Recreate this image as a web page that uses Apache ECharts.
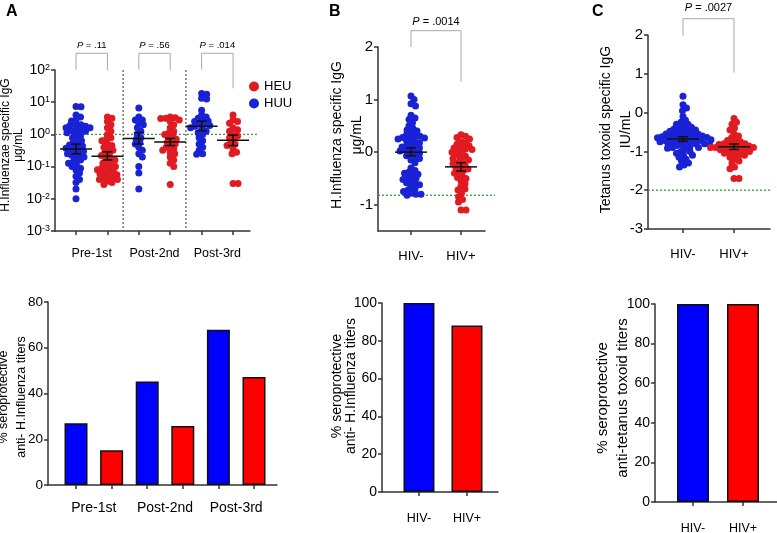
<!DOCTYPE html>
<html><head><meta charset="utf-8">
<script src="https://cdn.jsdelivr.net/npm/echarts@6/dist/echarts.min.js"></script>
<style>html,body{margin:0;padding:0;background:#fff}#c{width:777px;height:533px}</style>
</head><body><div id="c"></div>
<script>
// ---------------- DATA ----------------
const groupsA = ['Pre-1st', 'Post-2nd', 'Post-3rd'];
const groupsHIV = ['HIV-', 'HIV+'];
// Panel A (μg/mL), HUU (blue) and HEU (red) per timepoint
const huuPre1 = [7.4,7.2,4.0,3.5,2.8,2.6,2.0,2.0,1.9,1.8,1.6,1.6,1.4,1.4,1.3,1.26,1.12,1.0,0.89,0.79,0.71,0.63,0.56,0.5,0.47,0.44,0.4,0.37,0.35,0.32,0.3,0.28,0.25,0.23,0.22,0.2,0.18,0.16,0.14,0.126,0.11,0.1,0.089,0.079,0.063,0.05,0.04,0.032,0.02,0.01];
const heuPre1 = [3.5,3.2,2.5,2.0,1.6,1.26,1.0,0.79,0.71,0.63,0.5,0.45,0.4,0.35,0.32,0.28,0.25,0.22,0.2,0.18,0.16,0.14,0.126,0.11,0.1,0.1,0.09,0.08,0.075,0.07,0.063,0.06,0.056,0.05,0.045,0.045,0.04,0.04,0.035,0.032,0.028];
const huuPost2 = [6.6,3.5,2.8,2.8,2.2,2.0,1.6,1.26,1.0,0.79,0.71,0.56,0.5,0.4,0.32,0.25,0.2,0.1,0.063,0.02];
const heuPost2 = [3.5,3.3,3.2,3.1,2.8,2.5,2.0,1.6,1.26,1.12,1.0,0.89,0.79,0.71,0.63,0.56,0.5,0.45,0.4,0.35,0.32,0.28,0.25,0.2,0.16,0.126,0.1,0.028];
const huuPost3 = [18.6,17.8,13.2,12.6,5.6,4.0,3.5,3.2,2.8,2.6,2.5,2.2,2.0,1.9,1.8,1.6,1.4,1.26,1.12,1.0,0.79,0.63,0.5,0.4,0.32,0.25,0.24];
const heuPost3 = [4.0,2.8,2.5,2.2,1.6,1.4,1.26,1.0,0.89,0.79,0.71,0.56,0.5,0.45,0.35,0.28,0.25,0.03,0.03];
const huuMean = [0.35, 0.75, 1.8], huuLo = [0.25, 0.5, 1.3], huuHi = [0.5, 1.15, 2.6];
const heuMean = [0.21, 0.58, 0.66], heuLo = [0.16, 0.45, 0.45], heuHi = [0.29, 0.75, 0.95];
const thresholdA = 1;
const pTextA = ['.11', '.56', '.014'];
// Panel B (log units)
const bNeg = [1.07,1.0,0.92,0.88,0.7,0.65,0.62,0.56,0.5,0.45,0.42,0.4,0.35,0.33,0.3,0.3,0.28,0.27,0.25,0.25,0.22,0.2,0.18,0.15,0.12,0.1,0.1,0.08,0.05,0.03,0.02,0.0,-0.02,-0.05,-0.07,-0.1,-0.12,-0.15,-0.2,-0.3,-0.35,-0.38,-0.4,-0.42,-0.45,-0.48,-0.5,-0.52,-0.55,-0.58,-0.6,-0.62,-0.65,-0.7,-0.72,-0.75,-0.78,-0.8,-0.8,-0.82];
const bPos = [0.33,0.3,0.28,0.25,0.2,0.18,0.15,0.12,0.1,0.08,0.06,0.05,0.03,0.0,-0.02,-0.05,-0.08,-0.1,-0.12,-0.15,-0.18,-0.2,-0.22,-0.25,-0.28,-0.3,-0.32,-0.35,-0.38,-0.4,-0.45,-0.48,-0.5,-0.55,-0.6,-0.65,-0.7,-0.72,-0.78,-0.85,-0.9,-0.95,-1.1,-1.1];
const bMean = [0.0, -0.28], bLo = [-0.07, -0.36], bHi = [0.08, -0.2];
const thresholdB = -0.82;
// Panel C (log units)
const cNeg = [0.42,0.2,0.12,0.05,-0.1,-0.2,-0.25,-0.3,-0.3,-0.35,-0.38,-0.4,-0.42,-0.45,-0.45,-0.48,-0.5,-0.5,-0.52,-0.55,-0.55,-0.58,-0.58,-0.6,-0.6,-0.62,-0.62,-0.64,-0.65,-0.65,-0.66,-0.68,-0.68,-0.7,-0.7,-0.72,-0.72,-0.74,-0.75,-0.75,-0.76,-0.78,-0.8,-0.8,-0.8,-0.82,-0.85,-0.85,-0.88,-0.9,-0.9,-0.92,-0.95,-1.0,-1.0,-1.05,-1.1,-1.1,-1.15,-1.2,-1.25,-1.3,-1.35,-1.4];
const cPos = [-0.15,-0.25,-0.3,-0.4,-0.45,-0.55,-0.6,-0.65,-0.7,-0.72,-0.75,-0.78,-0.8,-0.8,-0.82,-0.85,-0.85,-0.86,-0.88,-0.9,-0.9,-0.9,-0.92,-0.93,-0.95,-0.96,-0.98,-1.0,-1.0,-1.02,-1.05,-1.08,-1.1,-1.12,-1.15,-1.2,-1.25,-1.3,-1.4,-1.45,-1.7,-1.7];
const cMean = [-0.68, -0.88], cLo = [-0.74, -0.95], cHi = [-0.62, -0.81];
const thresholdC = -2;
// Bars (% seroprotective)
const barA_HUU = [27.0, 45.3, 67.9];
const barA_HEU = [15.2, 25.8, 47.2];
const barB = [100, 88.1];
const barC = [100, 100];
const pTextB = '.0014', pTextC = '.0027';

// ---------------- STYLE ----------------
const FONT = '"Liberation Sans", Arial, Helvetica, sans-serif';
const BLUE_DOT = '#1a22d6', RED_DOT = '#e11b22';
const BLUE = '#0000ff', RED = '#ff0000';
const AX = '#333';
const chart = echarts.init(document.getElementById('c'));

const line = {show: true, onZero: false, lineStyle: {color: AX, width: 1.5}};
function tickX(vals) { return {show: true, length: 4, lineStyle: {color: AX, width: 1.5}, customValues: vals}; }
function labX(vals, names, size, margin) {
  return {customValues: vals, margin: margin, fontSize: size, color: '#000', fontFamily: FONT,
    formatter: v => names[Math.round(v)] !== undefined ? names[Math.round(v)] : ''};
}
function yName(text, size, lh, gap, pad) {
  return {name: text, nameLocation: 'middle', nameRotate: 90, nameGap: gap, nameMoveOverlap: false,
    nameTextStyle: {fontSize: size, lineHeight: lh, color: '#000', fontFamily: FONT, padding: pad, align: 'center'}};
}
const yLab = (size) => ({fontSize: size, color: '#000', fontFamily: FONT, margin: 5});
const yTick = {show: true, length: 4, lineStyle: {color: AX, width: 1.5}};

const gridBase = {outerBoundsMode: 'none', containLabel: false};
const grids = [
  {left: 55, top: 70, width: 195, height: 161},   // 0 A top
  {left: 378, top: 47, width: 107, height: 184},  // 1 B top
  {left: 648, top: 35, width: 122, height: 194},  // 2 C top
  {left: 48, top: 302, width: 229, height: 183},  // 3 A bottom
  {left: 382, top: 303, width: 116, height: 189}, // 4 B bottom
  {left: 655, top: 304, width: 122, height: 198}  // 5 C bottom
].map(g => Object.assign({}, gridBase, g));

const xAxes = [
  {gridIndex: 0, type: 'value', min: -0.669, max: 5.54, axisLine: line, splitLine: {show: false},
    axisTick: tickX([0,1,2,3,4,5]), axisLabel: labX([0.5,2.5,4.5], {}, 12.5, 16)},
  {gridIndex: 1, type: 'value', min: -0.66, max: 1.48, axisLine: line, splitLine: {show: false},
    axisTick: tickX([0,1]), axisLabel: labX([0,1], groupsHIV, 13, 19)},
  {gridIndex: 2, type: 'value', min: -0.686, max: 1.706, axisLine: line, splitLine: {show: false},
    axisTick: tickX([0,1]), axisLabel: labX([0,1], groupsHIV, 13, 19)},
  {gridIndex: 3, type: 'value', min: -0.787, max: 5.646, axisLine: line, splitLine: {show: false},
    axisTick: tickX([0,1,2,3,4,5]), axisLabel: labX([0.5,2.5,4.5], {}, 14, 16)},
  {gridIndex: 4, type: 'value', min: -0.77, max: 1.646, axisLine: line, splitLine: {show: false},
    axisTick: tickX([0,1]), axisLabel: labX([0,1], groupsHIV, 12.5, 20)},
  {gridIndex: 5, type: 'value', min: -0.76, max: 1.68, axisLine: line, splitLine: {show: false},
    axisTick: tickX([0,1]), axisLabel: labX([0,1], groupsHIV, 12.5, 20)}
];
xAxes[0].axisLabel.formatter = v => groupsA[Math.round((v - 0.5) / 2)];
xAxes[3].axisLabel.formatter = v => groupsA[Math.round((v - 0.5) / 2)];

const supLabel = {
  fontSize: 14, color: '#000', fontFamily: FONT, margin: 5,
  formatter: v => '10{s|' + Math.round(Math.log10(v)) + '}',
  rich: {s: {fontSize: 9, color: '#000', fontFamily: FONT, verticalAlign: 'top', lineHeight: 10, padding: [0,0,6,0]}}
};
const yAxes = [
  Object.assign({gridIndex: 0, type: 'log', logBase: 10, min: 0.001, max: 100, axisLine: line, axisTick: yTick,
    splitLine: {show: false}, minorTick: {show: false}, axisLabel: supLabel},
    yName('H.Influenzae specific IgG\nμg/mL', 12, 13, 30, [0,0,0,11])),
  Object.assign({gridIndex: 1, type: 'value', min: -1.5, max: 2, axisLine: line,
    axisTick: Object.assign({customValues: [-1,0,1,2]}, yTick), splitLine: {show: false},
    axisLabel: Object.assign({customValues: [-1,0,1,2]}, yLab(15))},
    yName('H.Influenza specific IgG\nμg/mL', 14, 20, 11, [0,0,0,8])),
  Object.assign({gridIndex: 2, type: 'value', min: -3, max: 2, interval: 1, axisLine: line, axisTick: yTick,
    splitLine: {show: false}, axisLabel: yLab(15)},
    yName('Tetanus toxoid specific IgG\nIU/mL', 14, 20, 12, [0,0,0,5])),
  Object.assign({gridIndex: 3, type: 'value', min: 0, max: 80, interval: 20, axisLine: line, axisTick: yTick,
    splitLine: {show: false}, axisLabel: yLab(13.5)},
    yName('% seroprotective\nanti- H.Influenza titers', 12.5, 18, 17, [0,7,0,0])),
  Object.assign({gridIndex: 4, type: 'value', min: 0, max: 100, interval: 20, axisLine: line, axisTick: yTick,
    splitLine: {show: false}, axisLabel: yLab(14)},
    yName('% seroprotective\nanti- H.Influenza titers', 14, 14, 24, [0,0,0,23])),
  Object.assign({gridIndex: 5, type: 'value', min: 0, max: 100, interval: 20, axisLine: line, axisTick: yTick,
    splitLine: {show: false}, axisLabel: yLab(14)},
    yName('% seroprotective\nanti-tetanus toxoid titers', 15, 20, 22, [0,0,0,10]))
];

// ---------- helpers for custom series ----------
function statsSeries(g, rows) {
  return {type: 'custom', xAxisIndex: g, yAxisIndex: g, z: 10, clip: false,
    encode: {x: 0, y: [1,2,3]}, data: rows,
    renderItem: (params, api) => {
      const x = api.value(0);
      const c = api.coord([x, api.value(1)]);
      const lo = api.coord([x, api.value(2)]);
      const hi = api.coord([x, api.value(3)]);
      const st = {stroke: '#111', lineWidth: 1.5};
      return {type: 'group', children: [
        {type: 'line', shape: {x1: c[0]-16, y1: c[1], x2: c[0]+16, y2: c[1]}, style: st},
        {type: 'line', shape: {x1: c[0], y1: lo[1], x2: c[0], y2: hi[1]}, style: st},
        {type: 'line', shape: {x1: c[0]-5, y1: lo[1], x2: c[0]+5, y2: lo[1]}, style: st},
        {type: 'line', shape: {x1: c[0]-5, y1: hi[1], x2: c[0]+5, y2: hi[1]}, style: st}
      ]};
    }};
}
function thresholdSeries(g, y, ext) {
  return {type: 'custom', xAxisIndex: g, yAxisIndex: g, z: 1, clip: false, encode: {x: 0, y: 1},
    data: [[0, y]], silent: true,
    renderItem: (params, api) => {
      const p = api.coord([0, api.value(1)]);
      const cs = params.coordSys;
      return {type: 'line', shape: {x1: cs.x, y1: p[1], x2: cs.x + cs.width + ext, y2: p[1]},
        style: {stroke: '#3a9a3a', lineWidth: 1.3, lineDash: [2, 2]}};
    }};
}
function bracketSeries(g, rows, texts, fs) {
  return {type: 'custom', xAxisIndex: g, yAxisIndex: g, z: 5, clip: false, silent: true,
    encode: {x: [0,1], y: [2,3,4,5]}, data: rows,
    renderItem: (params, api) => {
      const x1 = api.value(0), x2 = api.value(1);
      const t1 = api.coord([x1, api.value(2)]), t2 = api.coord([x2, api.value(2)]);
      const l = api.coord([x1, api.value(3)]), r = api.coord([x2, api.value(4)]);
      const tx = api.coord([(x1 + x2) / 2, api.value(5)]);
      const st = {stroke: '#a8a8a8', lineWidth: 1};
      return {type: 'group', children: [
        {type: 'polyline', shape: {points: [[l[0], l[1]], [t1[0], t1[1]], [t2[0], t2[1]], [r[0], r[1]]]}, style: Object.assign({fill: 'none'}, st)},
        {type: 'text', x: tx[0], y: tx[1], style: {text: '{i|P} = ' + texts[params.dataIndex], align: 'center', verticalAlign: 'middle',
          fontSize: fs, fontFamily: FONT, fill: '#000', rich: {i: {fontStyle: 'italic', fontSize: fs, fontFamily: FONT}}}}
      ]};
    }};
}

// ---------- scatter groups ----------
const dotGroups = [
  {name: 'HUU', grid: 0, color: BLUE_DOT, sets: [[0, huuPre1], [2, huuPost2], [4, huuPost3]]},
  {name: 'HEU', grid: 0, color: RED_DOT, sets: [[1, heuPre1], [3, heuPost2], [5, heuPost3]]},
  {name: 'B-', grid: 1, color: BLUE_DOT, sets: [[0, bNeg]]},
  {name: 'B+', grid: 1, color: RED_DOT, sets: [[1, bPos]]},
  {name: 'C-', grid: 2, color: BLUE_DOT, sets: [[0, cNeg]]},
  {name: 'C+', grid: 2, color: RED_DOT, sets: [[1, cPos]]}
];
function scatterSeries(dg, data) {
  return {type: 'scatter', name: dg.name, xAxisIndex: dg.grid, yAxisIndex: dg.grid, symbol: 'circle', symbolSize: 7,
    itemStyle: {color: dg.color, opacity: 1}, z: 3, silent: true,
    data: data || dg.sets.flatMap(s => s[1].map(v => [s[0], v]))};
}

const series = [];
dotGroups.forEach(dg => series.push(scatterSeries(dg)));
series.push(thresholdSeries(0, thresholdA, 7));
series.push(thresholdSeries(1, thresholdB, 10));
series.push(thresholdSeries(2, thresholdC, 2));
series.push({type: 'custom', xAxisIndex: 0, yAxisIndex: 0, z: 1, silent: true, encode: {x: 0, y: 1},
  data: [[1.5, 1], [3.5, 1]],
  renderItem: (params, api) => {
    const p = api.coord([api.value(0), 1]);
    const cs = params.coordSys;
    return {type: 'line', shape: {x1: p[0], y1: cs.y, x2: p[0], y2: cs.y + cs.height},
      style: {stroke: '#555', lineWidth: 1.2, lineDash: [2, 2]}};
  }});
series.push(statsSeries(0, [0,1,2].map(i => [2*i, huuMean[i], huuLo[i], huuHi[i]]).concat([0,1,2].map(i => [2*i+1, heuMean[i], heuLo[i], heuHi[i]]))));
series.push(statsSeries(1, [0,1].map(i => [i, bMean[i], bLo[i], bHi[i]])));
series.push(statsSeries(2, [0,1].map(i => [i, cMean[i], cLo[i], cHi[i]])));
series.push(bracketSeries(0, [[0,1,331,104,98,575],[2,3,331,104,98,575],[4,5,331,104,27,575]], pTextA, 9.5));
series.push(bracketSeries(1, [[0,1,2.31,2.0,1.34,2.48]], [pTextB], 11));
series.push(bracketSeries(2, [[0,1,2.42,1.98,1.03,2.7]], [pTextC], 11));
// bars
const barStyle = c => ({color: c, borderColor: '#111', borderWidth: 1.5});
const barAData = [];
groupsA.forEach((g, i) => {
  barAData.push({value: [2*i, barA_HUU[i]], itemStyle: barStyle(BLUE)});
  barAData.push({value: [2*i+1, barA_HEU[i]], itemStyle: barStyle(RED)});
});
series.push({type: 'bar', xAxisIndex: 3, yAxisIndex: 3, barWidth: 23, data: barAData});
series.push({type: 'bar', xAxisIndex: 4, yAxisIndex: 4, barWidth: 31, data: barB.map((v, i) => ({value: [i, v], itemStyle: barStyle(i ? RED : BLUE)}))});
series.push({type: 'bar', xAxisIndex: 5, yAxisIndex: 5, barWidth: 32, data: barC.map((v, i) => ({value: [i, v], itemStyle: barStyle(i ? RED : BLUE)}))});

const option = {
  backgroundColor: '#fff',
  animation: false,
  textStyle: {fontFamily: FONT},
  title: [
    {text: 'A', left: 6, top: 4, padding: 0, textStyle: {fontSize: 16, fontWeight: 'bold', color: '#000', fontFamily: FONT}},
    {text: 'B', left: 329, top: 4, padding: 0, textStyle: {fontSize: 16, fontWeight: 'bold', color: '#000', fontFamily: FONT}},
    {text: 'C', left: 592, top: 4, padding: 0, textStyle: {fontSize: 16, fontWeight: 'bold', color: '#000', fontFamily: FONT}}
  ],
  legend: {data: ['HEU', 'HUU'], orient: 'vertical', left: 249, top: 80, itemWidth: 10, itemHeight: 10, itemGap: 4,
    icon: 'circle', padding: 0, textStyle: {fontSize: 13, color: '#000', fontFamily: FONT}},
  grid: grids,
  xAxis: xAxes,
  yAxis: yAxes,
  series: series
};
chart.setOption(option);

// ---------- beeswarm layout through the axes ----------
function swarm(dg, D) {
  const out = [];
  dg.sets.forEach(([xc, vals]) => {
    const pts = vals.map(v => {
      const p = chart.convertToPixel({gridIndex: dg.grid}, [xc, v]);
      return {v: v, px: p[0], py: p[1]};
    }).sort((a, b) => a.py - b.py);
    const placed = [];
    pts.forEach(p => {
      let x = p.px;
      for (let k = 0; k < 400; k++) {
        const off = (k % 2 === 1 ? 1 : -1) * Math.ceil(k / 2) * 0.5;
        const cx = p.px + off;
        if (placed.every(q => (q.x - cx) * (q.x - cx) + (q.y - p.py) * (q.y - p.py) >= D * D)) { x = cx; break; }
      }
      placed.push({x: x, y: p.py});
      const xv = chart.convertFromPixel({gridIndex: dg.grid}, [x, p.py])[0];
      out.push([xv, p.v]);
    });
  });
  return out;
}
const newSeries = option.series.slice();
dotGroups.forEach((dg, i) => { newSeries[i] = scatterSeries(dg, swarm(dg, 4.6)); });
chart.setOption({series: newSeries});
</script>
</body></html>
